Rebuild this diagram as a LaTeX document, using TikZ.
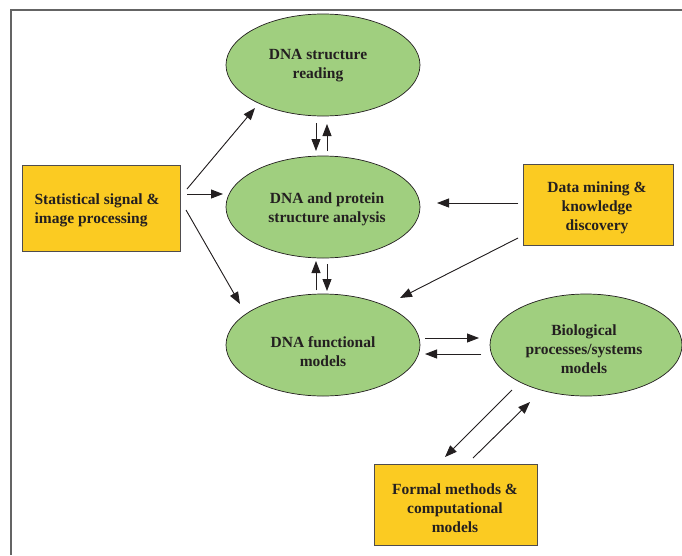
\documentclass[tikz,border=0pt]{standalone}
\usepackage{fontspec}
\setmainfont{Liberation Serif}
\usetikzlibrary{shapes.geometric,arrows.meta}
\definecolor{ellgreen}{RGB}{160,207,127}
\definecolor{boxyellow}{RGB}{251,203,34}
\definecolor{txt}{RGB}{35,31,32}
\definecolor{framegray}{RGB}{100,100,100}
\begin{document}
\begin{tikzpicture}[x=1pt,y=-1pt,
  ell/.style={ellipse,draw=txt,line width=0.7pt,fill=ellgreen,inner sep=0pt,
    minimum width=194pt,minimum height=102pt},
  ybox/.style={rectangle,draw=txt!80,line width=0.8pt,fill=boxyellow,inner sep=0pt},
  lbl/.style={text=txt,align=center,inner sep=0pt,font=\fontsize{15.5}{19}\selectfont\bfseries},
  arr/.style={-{Triangle[length=12pt,width=9pt]},line width=0.9pt,draw=txt,fill=txt}]
\useasboundingbox (0,0) rectangle (682,555);
\draw[framegray,line width=1.5pt] (682,10) -- (11,10) -- (11,555);

% ellipses
\node[ell] (read) at (323,65) {};
\node[lbl] (readt) at (318,66) {DNA structure\\reading};
\node[ell] (anal) at (323,207) {};
\node[lbl] (analt) at (327,209) {DNA and protein\\structure analysis};
\node[ell] (func) at (323,345) {};
\node[lbl] (funct) at (323,352) {DNA functional\\models};
\node[ell,minimum width=192pt] (bio) at (586,345) {};
\node[lbl] (biot) at (584,349) {Biological\\processes/systems\\models};

% boxes
\node[ybox,minimum width=158pt,minimum height=86pt] (stat) at (101,208) {};
\node[lbl,align=left] (statt) at (97,210) {Statistical signal \&\\image processing};
\node[ybox,minimum width=150pt,minimum height=81pt] (mine) at (598,204.5) {};
\node[lbl] (minet) at (597,208) {Data mining \&\\knowledge\\discovery};
\node[ybox,minimum width=163pt,minimum height=81pt] (form) at (455.5,504.5) {};
\node[lbl] (formt) at (455,508) {Formal methods \&\\computational\\models};

% connector end points
\coordinate (s1a) at (187,189); \coordinate (s1b) at (255,108);
\coordinate (s2a) at (187,194); \coordinate (s2b) at (223,194);
\coordinate (s3a) at (186,210); \coordinate (s3b) at (240,304);
\coordinate (rd1) at (316,123); \coordinate (rd2) at (316,151);
\coordinate (ru1) at (327,151); \coordinate (ru2) at (327,124);
\coordinate (fu1) at (316,290); \coordinate (fu2) at (316,261);
\coordinate (fd1) at (327,264); \coordinate (fd2) at (327,291);
\coordinate (m1a) at (518,203); \coordinate (m1b) at (437,203);
\coordinate (m2a) at (518,238); \coordinate (m2b) at (400,298);
\coordinate (fb1) at (425,338); \coordinate (fb2) at (479,338);
\coordinate (bf1) at (481,354); \coordinate (bf2) at (425,354);
\coordinate (bo1) at (512,390); \coordinate (bo2) at (445,457);
\coordinate (ob1) at (473,458); \coordinate (ob2) at (530,402);

\draw[arr] (s1a) -- (s1b);
\draw[arr] (s2a) -- (s2b);
\draw[arr] (s3a) -- (s3b);
\draw[arr] (rd1) -- (rd2);
\draw[arr] (ru1) -- (ru2);
\draw[arr] (fu1) -- (fu2);
\draw[arr] (fd1) -- (fd2);
\draw[arr] (m1a) -- (m1b);
\draw[arr] (m2a) -- (m2b);
\draw[arr] (fb1) -- (fb2);
\draw[arr] (bf1) -- (bf2);
\draw[arr] (bo1) -- (bo2);
\draw[arr] (ob1) -- (ob2);
\end{tikzpicture}
\end{document}
